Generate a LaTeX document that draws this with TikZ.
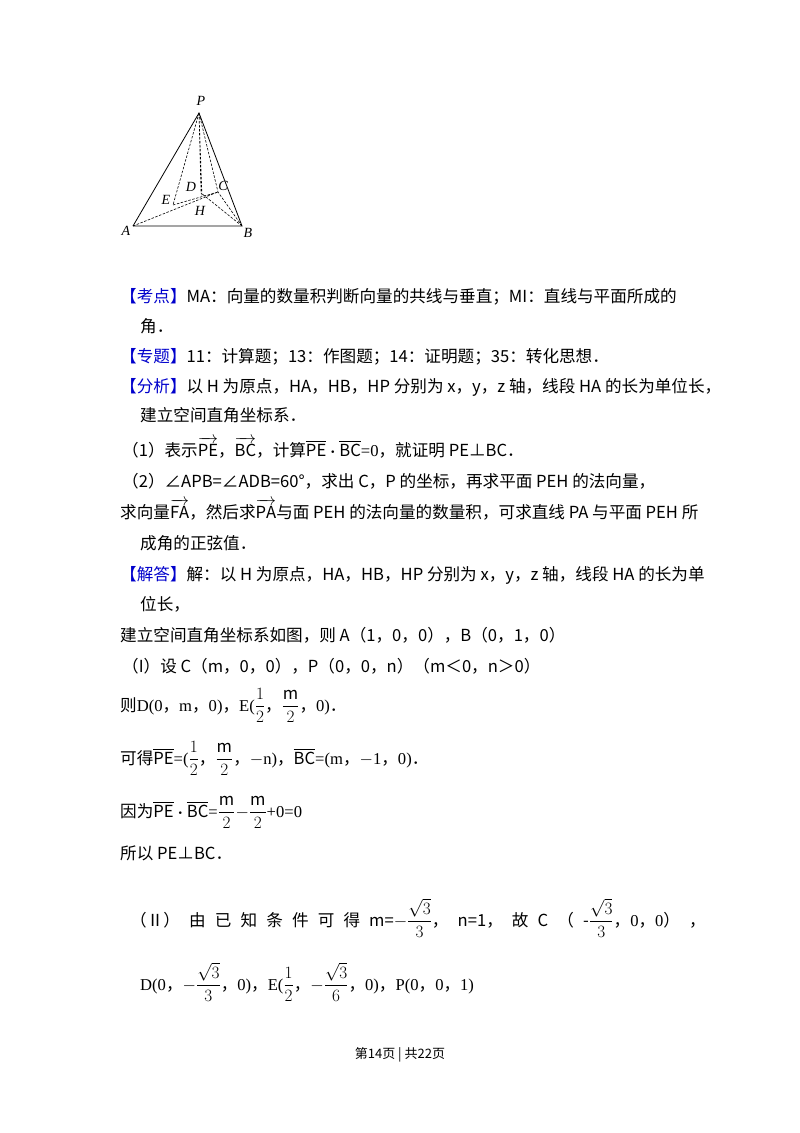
\documentclass[tikz,border=0pt]{standalone}
\usepackage{fontspec}
\usepackage{amsmath}
\setmainfont{Noto Sans CJK SC}
\newfontfamily\sr{Liberation Serif}
\newfontfamily\itf{Liberation Serif Italic}
\newfontfamily\cjk{Noto Sans CJK SC}
\newcommand\cm{{\cjk ，}}
\newcommand\pd{{\cjk ．}}
\newcommand\gp{\hspace{0.55em}}
\begin{document}
\begin{tikzpicture}[x=1pt,y=-1pt,
  t/.style={anchor=base west,inner sep=0pt,font=\fontsize{16.6}{19}\selectfont},
  lab/.style={inner sep=1pt,font=\fontsize{14}{15}\itf},
  dl/.style={dashed,dash pattern=on 2.5pt off 1.5pt,line width=0.6pt},
  sl/.style={line width=0.8pt}]
\useasboundingbox (0,0) rectangle (800,1133);
\fill[white] (0,0) rectangle (800,1133);
\colorlet{kb}{blue!80!black}
% figure
\coordinate (P) at (199,113); \coordinate (A) at (133,226); \coordinate (B) at (242,226);
\coordinate (C) at (218,192); \coordinate (D) at (201,193); \coordinate (E) at (173,205);
\coordinate (H) at (202,197);
\draw[sl] (A)--(P)--(B)--(A);
\draw[dl] (P)--(E) (P)--(D) (P)--(H) (P)--(C) (A)--(C) (B)--(D) (E)--(C) (B)--(C);
\node[lab] (lP) at (201,101) {P}; \node[lab] (lA) at (126,231) {A};
\node[lab] (lB) at (248,233) {B}; \node[lab] (lC) at (223,186) {C};
\node[lab] (lD) at (191,187) {D}; \node[lab] (lE) at (166,200) {E};
\node[lab] (lH) at (200,211) {H};
% text
\node[t] (l1) at (120,302) {\textcolor{kb}{【考点】}MA：向量的数量积判断向量的共线与垂直；MI：直线与平面所成的};
\node[t] (l2) at (140,332) {角．};
\node[t] (l3) at (120,362) {\textcolor{kb}{【专题】}11：计算题；13：作图题；14：证明题；35：转化思想．};
\node[t] (l4) at (120,392) {\textcolor{kb}{【分析】}以 H 为原点，HA，HB，HP 分别为 x，y，z 轴，线段 HA 的长为单位长，};
\node[t] (l5) at (140,421) {建立空间直角坐标系．};
\node[t] (l6) at (122,456) {（1）表示{\sr$\overrightarrow{\mathrm{PE}}$}，{\sr$\overrightarrow{\mathrm{BC}}$}，计算{\sr$\overline{\mathrm{PE}}\boldsymbol{\cdot}\overline{\mathrm{BC}}$=0}，就证明 PE⊥BC．};
\node[t] (l7) at (122,487) {（2）∠APB=∠ADB=60°，求出 C，P 的坐标，再求平面 PEH 的法向量，};
\node[t] (l8) at (120,518) {求向量{\sr$\overrightarrow{\mathrm{FA}}$}，然后求{\sr$\overrightarrow{\mathrm{PA}}$}与面 PEH 的法向量的数量积，可求直线 PA 与平面 PEH 所};
\node[t] (l9) at (140,549) {成角的正弦值．};
\node[t] (l10) at (120,580) {\textcolor{kb}{【解答】}解：以 H 为原点，HA，HB，HP 分别为 x，y，z 轴，线段 HA 的长为单};
\node[t] (l11) at (140,610) {位长，};
\node[t] (l12) at (120,641) {建立空间直角坐标系如图，则 A（1，0，0），B（0，1，0）};
\node[t] (l13) at (122,672) {（I）设 C（m，0，0），P（0，0，n）（m＜0，n＞0）};
\node[t] (l14) at (120,711) {则{\sr D(0\cm m\cm 0)\cm E($\dfrac{1}{2}$\cm $\dfrac{\mathrm m}{2}$\cm 0)\pd}};
\node[t] (l15) at (120,764) {可得{\sr$\overline{\mathrm{PE}}$=($\dfrac{1}{2}$\cm $\dfrac{\mathrm m}{2}$\cm $-$n)\cm $\overline{\mathrm{BC}}$=(m\cm $-$1\cm 0)\pd}};
\node[t] (l16) at (120,817) {因为{\sr$\overline{\mathrm{PE}}\boldsymbol{\cdot}\overline{\mathrm{BC}}$=$\dfrac{\mathrm m}{2}$$-$$\dfrac{\mathrm m}{2}$+0=0}};
\node[t] (l17) at (120,859) {所以 PE⊥BC．};
\node[t] (l18) at (130,926) {（Ⅱ）\gp 由\gp 已\gp 知\gp 条\gp 件\gp 可\gp 得\gp m={\sr$-\dfrac{\sqrt3}{3}$}，\gp n=1，\gp 故\gp C\gp （\gp -{\sr$\dfrac{\sqrt3}{3}$\cm 0\cm 0}）\gp ，};
\node[t] (l19) at (140,990) {\sr D(0\cm $-\dfrac{\sqrt3}{3}$\cm 0)\cm E($\dfrac{1}{2}$\cm $-\dfrac{\sqrt3}{6}$\cm 0)\cm P(0\cm 0\cm 1)};
\node[inner sep=0pt,font=\fontsize{13}{15}\selectfont] (ft) at (400,1055) {第14页 | 共22页};
\end{tikzpicture}
\end{document}
